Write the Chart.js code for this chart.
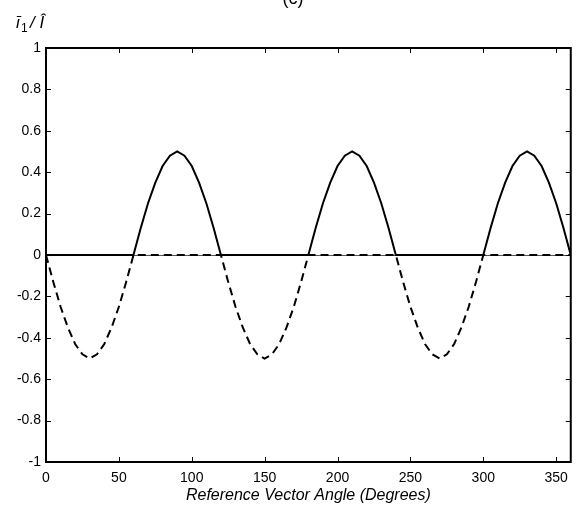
<!DOCTYPE html>
<html>
<head>
<meta charset="utf-8">
<script src="https://cdn.jsdelivr.net/npm/chart.js@4/dist/chart.umd.min.js"></script>
<style>
  html, body { margin: 0; padding: 0; background: #fff; }
  #wrap { width: 576px; height: 516px; }
</style>
</head>
<body>
<div id="wrap"><canvas id="c"></canvas></div>
<script>
const fontFamily = '"Liberation Sans", Arial, sans-serif'
const lineColor = '#000000'

// reference vector angle, degrees
const angles = [
  0, 5, 10, 15, 20, 25, 30, 35, 40, 45, 50, 55, 60,
  65, 70, 75, 80, 85, 90, 95, 100, 105, 110, 115, 120,
  125, 130, 135, 140, 145, 150, 155, 160, 165, 170, 175, 180,
  185, 190, 195, 200, 205, 210, 215, 220, 225, 230, 235, 240,
  245, 250, 255, 260, 265, 270, 275, 280, 285, 290, 295, 300,
  305, 310, 315, 320, 325, 330, 335, 340, 345, 350, 355, 360
]

// solid trace
const solidValues = [
  0, 0, 0, 0, 0, 0, 0, 0, 0, 0, 0, 0, 0,
  0.13, 0.25, 0.35, 0.43, 0.48, 0.5, 0.48, 0.43, 0.35, 0.25, 0.13, 0,
  0, 0, 0, 0, 0, 0, 0, 0, 0, 0, 0, 0,
  0.13, 0.25, 0.35, 0.43, 0.48, 0.5, 0.48, 0.43, 0.35, 0.25, 0.13, 0,
  0, 0, 0, 0, 0, 0, 0, 0, 0, 0, 0, 0,
  0.13, 0.25, 0.35, 0.43, 0.48, 0.5, 0.48, 0.43, 0.35, 0.25, 0.13, 0
]

// dashed trace
const dashedValues = [
  0, -0.13, -0.25, -0.35, -0.43, -0.48, -0.5, -0.48, -0.43, -0.35, -0.25, -0.13, 0,
  0, 0, 0, 0, 0, 0, 0, 0, 0, 0, 0, 0,
  -0.13, -0.25, -0.35, -0.43, -0.48, -0.5, -0.48, -0.43, -0.35, -0.25, -0.13, 0,
  0, 0, 0, 0, 0, 0, 0, 0, 0, 0, 0, 0,
  -0.13, -0.25, -0.35, -0.43, -0.48, -0.5, -0.48, -0.43, -0.35, -0.25, -0.13, 0,
  0, 0, 0, 0, 0, 0, 0, 0, 0, 0, 0, 0
]

const xTicks = [0, 50, 100, 150, 200, 250, 300, 350]
const yTicks = [-1, -0.8, -0.6, -0.4, -0.2, 0, 0.2, 0.4, 0.6, 0.8, 1]

const toPoints = (xs, ys) => xs.map((x, i) => ({ x: x, y: ys[i] }))

// thin line along y = 0 under the traces
const zeroLine = {
  id: 'zeroLine',
  beforeDatasetsDraw(chart) {
    const ctx = chart.ctx
    const a = chart.chartArea
    const y = Math.round(chart.scales.y.getPixelForValue(0)) + 0.5
    ctx.save()
    ctx.strokeStyle = '#555555'
    ctx.lineWidth = 1
    ctx.beginPath()
    ctx.moveTo(a.left, y)
    ctx.lineTo(a.right, y)
    ctx.stroke()
    ctx.restore()
  }
}

// box, inward ticks on all four sides, panel letter and y label
const frame = {
  id: 'frame',
  afterDraw(chart) {
    const ctx = chart.ctx
    const a = chart.chartArea
    const sx = chart.scales.x
    const sy = chart.scales.y
    ctx.save()
    ctx.strokeStyle = lineColor
    ctx.lineWidth = 1
    ctx.beginPath()
    xTicks.forEach(v => {
      const x = Math.round(sx.getPixelForValue(v)) + 0.5
      ctx.moveTo(x, a.bottom); ctx.lineTo(x, a.bottom - 5)
      ctx.moveTo(x, a.top); ctx.lineTo(x, a.top + 5)
    })
    yTicks.forEach(v => {
      const y = Math.round(sy.getPixelForValue(v)) + 0.5
      ctx.moveTo(a.left, y); ctx.lineTo(a.left + 5, y)
      ctx.moveTo(a.right, y); ctx.lineTo(a.right - 5, y)
    })
    ctx.stroke()
    ctx.lineWidth = 2
    ctx.strokeRect(a.left, a.top, a.right - a.left, a.bottom - a.top)

    ctx.fillStyle = lineColor
    ctx.textBaseline = 'alphabetic'
    ctx.textAlign = 'center'
    ctx.font = '18px ' + fontFamily
    ctx.fillText('(c)', 293, 4)

    ctx.textAlign = 'left'
    ctx.font = 'italic 17px ' + fontFamily
    ctx.fillText('\u012B', 16, 28)
    ctx.font = '12px ' + fontFamily
    ctx.fillText('1', 21, 32)
    ctx.font = 'italic 17px ' + fontFamily
    ctx.fillText('/ \u00CE', 30, 28)
    ctx.restore()
  }
}

new Chart(document.getElementById('c'), {
  type: 'line',
  data: {
    datasets: [
      {
        label: 'dashed',
        data: toPoints(angles, dashedValues),
        borderColor: lineColor,
        borderWidth: 2,
        borderDash: [8, 5],
        pointRadius: 0,
        fill: false,
        tension: 0
      },
      {
        label: 'solid',
        data: toPoints(angles, solidValues),
        borderColor: lineColor,
        borderWidth: 2,
        pointRadius: 0,
        fill: false,
        tension: 0
      }
    ]
  },
  options: {
    animation: false,
    responsive: true,
    maintainAspectRatio: false,
    layout: { padding: { top: 48, right: 5, left: 0, bottom: 0 } },
    plugins: { legend: { display: false }, tooltip: { enabled: false } },
    scales: {
      x: {
        type: 'linear',
        min: 0,
        max: 360,
        afterBuildTicks: s => { s.ticks = xTicks.map(v => ({ value: v })) },
        afterFit: s => { s.height = 54 },
        grid: { display: false, drawTicks: false },
        border: { display: false },
        ticks: { color: lineColor, padding: 8, font: { family: fontFamily, size: 14 } },
        title: {
          display: true,
          text: 'Reference Vector Angle (Degrees)',
          color: lineColor,
          font: { family: fontFamily, size: 16, style: 'italic' },
          padding: { top: 4, bottom: 11 }
        }
      },
      y: {
        min: -1,
        max: 1,
        afterBuildTicks: s => { s.ticks = yTicks.map(v => ({ value: v })) },
        afterFit: s => { s.width = 46 },
        grid: { display: false, drawTicks: false },
        border: { display: false },
        ticks: {
          color: lineColor,
          padding: 5,
          font: { family: fontFamily, size: 14 },
          callback: v => String(Math.round(v * 10) / 10)
        }
      }
    }
  },
  plugins: [zeroLine, frame]
})
</script>
</body>
</html>
